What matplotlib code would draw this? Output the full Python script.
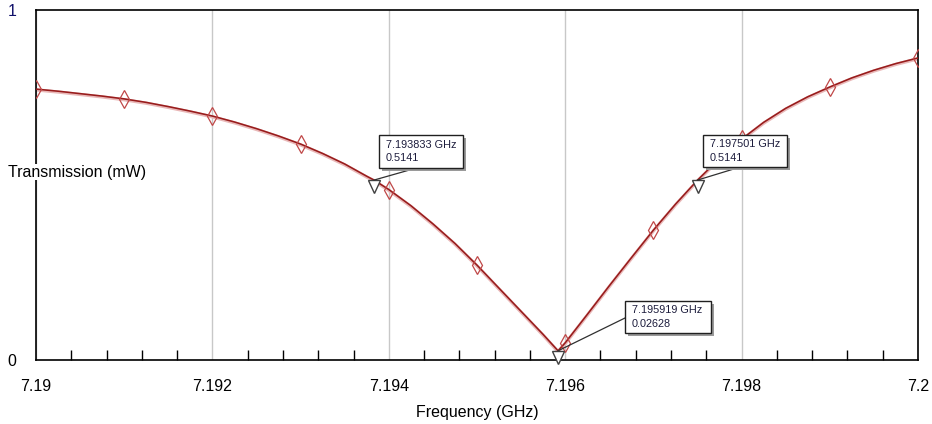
import matplotlib
matplotlib.use("Agg")
import matplotlib.pyplot as plt
import numpy as np
from matplotlib.markers import MarkerStyle
from matplotlib.transforms import Affine2D
from matplotlib.ticker import MultipleLocator, FixedLocator

plt.rcParams['font.family'] = ['Liberation Sans', 'DejaVu Sans']

# Swept transmission of the notch resonance (GHz, mW)
freq_ghz = [7.19000, 7.19025, 7.19050, 7.19075, 7.19100, 7.19125, 7.19150, 7.19175,
            7.19200, 7.19225, 7.19250, 7.19275, 7.19300, 7.19325, 7.19350, 7.19375,
            7.193833, 7.19400, 7.19425, 7.19450, 7.19475, 7.19500, 7.19525, 7.19550,
            7.19575, 7.195919, 7.19600, 7.19625, 7.19650, 7.19675, 7.19700, 7.19725,
            7.197501, 7.19775, 7.19800, 7.19825, 7.19850, 7.19875, 7.19900, 7.19925,
            7.19950, 7.19975, 7.20000]
trans_mw = [0.774, 0.768, 0.761, 0.754, 0.746, 0.736, 0.724, 0.711,
            0.697, 0.680, 0.661, 0.640, 0.617, 0.590, 0.560, 0.525,
            0.5141, 0.487, 0.441, 0.389, 0.333, 0.271, 0.205, 0.139,
            0.073, 0.02628, 0.049, 0.130, 0.212, 0.292, 0.371, 0.445,
            0.5141, 0.576, 0.631, 0.679, 0.719, 0.752, 0.780, 0.806,
            0.828, 0.847, 0.863]

# Diamond symbols every 1 MHz
sym_freq = [7.190, 7.191, 7.192, 7.193, 7.194, 7.195, 7.196, 7.197, 7.198, 7.199, 7.200]

# Marker readouts
mk_freq = [7.193833, 7.197501, 7.195919]
mk_val = [0.5141, 0.5141, 0.02628]
mk_box = [(379, 135, 84, 33), (703, 135, 84, 32), (625, 301, 86, 32)]   # pixel boxes (x, y, w, h)
mk_leader = [(413, 169), (737, 168), (625, 318)]

x_ticks = [7.19, 7.192, 7.194, 7.196, 7.198, 7.2]
x_tick_labels = ["7.19", "7.192", "7.194", "7.196", "7.198", "7.2"]

W, H = 932, 424
fig = plt.figure(figsize=(W / 100, H / 100), dpi=100)
ax = fig.add_axes([36 / W, 1 - 360 / H, (918 - 36) / W, (360 - 10) / H])
ax.set_xlim(7.19, 7.20)
ax.set_ylim(0, 1)

line_col = '#981c1c'
ax.plot(freq_ghz, trans_mw, color='#e9b8b8', lw=2.4, zorder=2,
        transform=ax.transData + Affine2D().translate(0, -0.8))
ax.plot(freq_ghz, trans_mw, color=line_col, lw=1.15, zorder=3)

sym_val = np.interp(sym_freq, freq_ghz, trans_mw)
ax.plot(sym_freq, sym_val, ls='none', marker='d', ms=9, mfc='none', mec='#c04848',
        mew=0.9, zorder=4)

# Grid and ticks
ax.xaxis.set_major_locator(FixedLocator(x_ticks))
ax.set_xticklabels(x_tick_labels)
ax.xaxis.set_minor_locator(MultipleLocator(0.0004))
ax.grid(axis='x', which='major', color='#c8c8c8', lw=1.0)
ax.set_axisbelow(True)
ax.tick_params(axis='x', which='major', length=0, pad=13.5, labelsize=11.5)
ax.tick_params(axis='x', which='minor', direction='in', length=7, width=1.0, color='black')
ax.set_yticks([])
for s in ax.spines.values():
    s.set_linewidth(1.2)

ax.set_xlabel('Frequency (GHz)', fontsize=11.5, labelpad=8)
fig.text(12 / W, 1 - 11.5 / H, '1', fontsize=11.5, color='#10106a', ha='center', va='center')
fig.text(12 / W, 1 - 362 / H, '0', fontsize=11.5, color='black', ha='center', va='center')
fig.text(8 / W, 1 - 172 / H, 'Transmission (mW)', fontsize=11.5, va='center', ha='left',
         bbox=dict(facecolor='white', edgecolor='none', pad=0.5))

# Marker readouts in pixel coordinates of the figure
def px(x, y):
    return x / W, 1 - y / H

hang_tri = MarkerStyle('v', transform=Affine2D().translate(0, -0.5))
for f, v, (bx, by, bw, bh), (lx, ly) in zip(mk_freq, mk_val, mk_box, mk_leader):
    ax.plot([f], [v], marker=hang_tri, ms=9, mfc='white', mec='#404040', mew=1.0,
            zorder=6, clip_on=False)
    disp = ax.transData.transform((f, v))
    fx, fy = fig.transFigure.inverted().transform(disp)
    lxf, lyf = px(lx, ly)
    fig.add_artist(plt.Line2D([fx, lxf], [fy, lyf], color='#303030', lw=0.9, zorder=7))
    # drop shadow
    sx, sy = px(bx + 3, by + bh + 3)
    fig.add_artist(plt.Rectangle((sx, sy), bw / W, bh / H, facecolor='#9a9a9a',
                                 edgecolor='none', zorder=8))
    rx, ry = px(bx, by + bh)
    fig.add_artist(plt.Rectangle((rx, ry), bw / W, bh / H, facecolor='white',
                                 edgecolor='#202020', lw=1.0, zorder=9))
    tx, ty = px(bx + 7, by + bh / 2)
    fig.text(tx, ty, f"{f:.6f} GHz\n{v:g}", fontsize=7.8, color='#1c1c3c', va='center',
             ha='left', linespacing=1.4, zorder=10)

fig.savefig('out.png', dpi=100)
